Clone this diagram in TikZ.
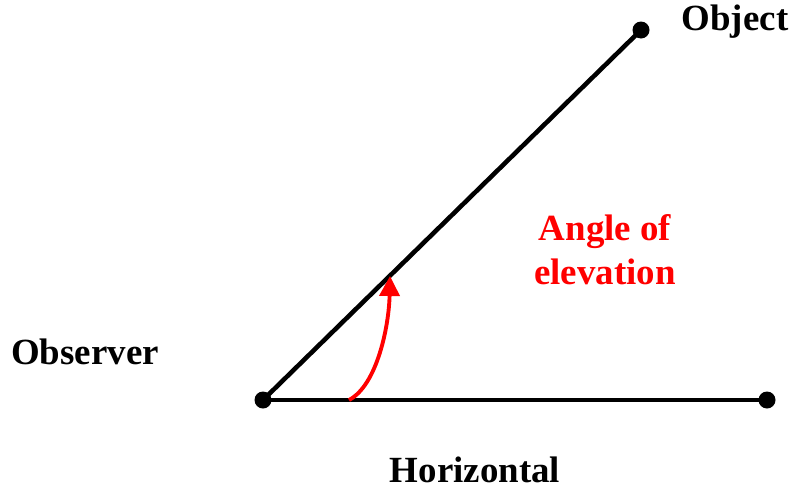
\documentclass[tikz,border=0pt]{standalone}
\usepackage{fontspec}
\setmainfont{Liberation Serif}
\usepackage{xcolor}
\usetikzlibrary{positioning, arrows.meta, calc}

\begin{document}
\begin{tikzpicture}[
    >={Triangle[length=4mm, width=4mm]},
    ray/.style={line width=2.6pt, black},
    pt/.style={circle, fill=black, inner sep=0pt, minimum size=0.34cm},
    lbl/.style={font=\fontsize{21}{25}\selectfont\bfseries, align=center},
    anglearrow/.style={->, line width=2.2pt, red},
]
\useasboundingbox (0,0) rectangle (15.84,9.8);

% Points
\node[pt] (observer) at (5.26,1.8) {};
\node[pt] (horizend) at (15.34,1.8) {};
\node[pt] (object) at (12.82,9.2) {};
\coordinate (arcstart) at (6.98,1.8);
\coordinate (arctip) at (7.8,4.28);

% Lines
\draw[ray] (observer.center) -- (horizend.center);
\draw[ray] (observer.center) -- (object.center);

% Angle arrow
\draw[anglearrow] (arcstart) .. controls (7.55,2.1) and (7.78,3.3) .. (arctip);

% Labels
\node[lbl] (objlbl) at (14.7,9.36) {Object};
\node[lbl] (obslbl) at (1.7,2.76) {Observer};
\node[lbl] (horlbl) at (9.5,0.4) {Horizontal};
\node[lbl, text=red] (anglbl) at (12.1,4.8) {Angle of\\elevation};

\end{tikzpicture}
\end{document}
